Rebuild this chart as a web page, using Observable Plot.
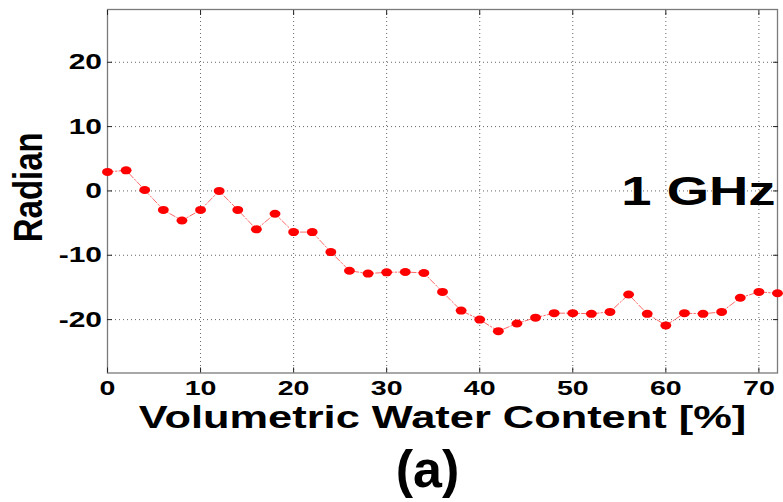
<!DOCTYPE html>
<html>
<head>
<meta charset="utf-8">
<script src="https://cdn.jsdelivr.net/npm/d3@7"></script>
<script src="https://cdn.jsdelivr.net/npm/@observablehq/plot@0.6"></script>
<style>
  body { margin: 0; background: #fff; }
</style>
</head>
<body>
<div id="chart"></div>
<script>
// Unwrapped phase at 1 GHz versus soil volumetric water content
const waterContent = [0, 2, 4, 6, 8, 10, 12, 14, 16, 18, 20, 22, 24, 26, 28, 30, 32, 34, 36,
                      38, 40, 42, 44, 46, 48, 50, 52, 54, 56, 58, 60, 62, 64, 66, 68, 70, 72];
const phase = [2.95, 3.2, 0.15, -2.95, -4.6, -2.95, 0.0, -2.95, -5.97, -3.55, -6.4, -6.4, -9.5,
               -12.4, -12.85, -12.65, -12.6, -12.75, -15.7, -18.6, -20.0, -21.8, -20.6, -19.7,
               -19.0, -19.0, -19.1, -18.8, -16.1, -19.1, -20.9, -19.0, -19.1, -18.8, -16.6, -15.7, -15.9];
const xTicks = [0, 10, 20, 30, 40, 50, 60, 70];
const yTicks = [-20, -10, 0, 10, 20];
const xLabel = "Volumetric Water Content [%]";
const yLabel = "Radian";
const bandLabel = "1 GHz";
const panelLabel = "(a)";

const rows = waterContent.map((w, i) => ({w, p: phase[i]}));

const plain = d => String(d); // hyphen-minus, as in the original figure
const gridStyle = {stroke: "#666", strokeOpacity: 1, strokeDasharray: "1,3"};
const tickStyle = {tickSize: 5, fill: "none", label: null, stroke: "#222", strokeWidth: 1};
const textStyle = {text: d => d, lineAnchor: "middle", textAnchor: "middle", fill: "#000"};

const svg = Plot.plot({
  width: 783,
  height: 502,
  marginLeft: 107,
  marginRight: 6,
  marginTop: 9,
  marginBottom: 129.5,
  style: {
    fontFamily: "'Liberation Sans', Arial, sans-serif",
    fontWeight: "bold",
    background: "#fff",
    color: "#000"
  },
  x: {domain: [0, 72]},
  y: {domain: [-28.3, 28.2]},
  marks: [
    Plot.gridX(xTicks, gridStyle),
    Plot.gridY(yTicks, gridStyle),
    Plot.frame({stroke: "#7a7a7a", strokeWidth: 1.3}),
    // inward ticks on all four sides of the box
    Plot.axisX(xTicks, {anchor: "top", dy: 5, ...tickStyle}),
    Plot.axisX(xTicks, {anchor: "bottom", dy: -5, ...tickStyle}),
    Plot.axisY(yTicks, {anchor: "left", dx: 5, ...tickStyle}),
    Plot.axisY(yTicks, {anchor: "right", dx: -5, ...tickStyle}),
    // tick labels
    Plot.axisX(xTicks, {anchor: "bottom", tickSize: 0, tickPadding: 7, fontSize: 21, label: null, fill: "#000", tickFormat: plain}),
    Plot.axisY(yTicks, {anchor: "left", tickSize: 0, tickPadding: 5.5, fontSize: 22, label: null, fill: "#000", tickFormat: plain}),
    // measured series
    Plot.line(rows, {x: "w", y: "p", stroke: "#ff2a2a", strokeWidth: 1, strokeDasharray: "6,2,1.5,2", strokeOpacity: 0.7}),
    Plot.dot(rows, {x: "w", y: "p", r: 4, fill: "#ff0000", stroke: "none"}),
    // annotations
    Plot.text([bandLabel], {...textStyle, frameAnchor: "right", textAnchor: "end", dx: -2, dy: 0.6, fontSize: 40}),
    Plot.text([xLabel], {...textStyle, frameAnchor: "bottom", dy: 45, fontSize: 31}),
    Plot.text([yLabel], {...textStyle, frameAnchor: "left", rotate: -90, dx: -78.5, dy: -4, fontSize: 33}),
    Plot.text([panelLabel], {...textStyle, frameAnchor: "bottom", dx: -15, dy: 97, fontSize: 52})
  ]
});

// The figure is drawn with a wide aspect: widen glyphs and markers horizontally
const stretch = 1.36;
const stretchFor = new Map([[panelLabel, 1], [xLabel, 1.4], [yLabel, 1.25]]);
svg.querySelectorAll("text").forEach(t => {
  const tr = t.getAttribute("transform");
  if (!tr) return;
  const s = stretchFor.has(t.textContent) ? stretchFor.get(t.textContent) : stretch;
  if (s === 1) return;
  t.setAttribute("transform", tr + (/rotate/.test(tr) ? ` scale(1,${s})` : ` scale(${s},1)`));
});
svg.querySelectorAll("circle").forEach(c => {
  const cx = c.getAttribute("cx"), cy = c.getAttribute("cy");
  c.setAttribute("cx", 0);
  c.setAttribute("cy", 0);
  c.setAttribute("transform", `translate(${cx},${cy}) scale(${stretch},1)`);
});

document.getElementById("chart").appendChild(svg);
</script>
</body>
</html>
